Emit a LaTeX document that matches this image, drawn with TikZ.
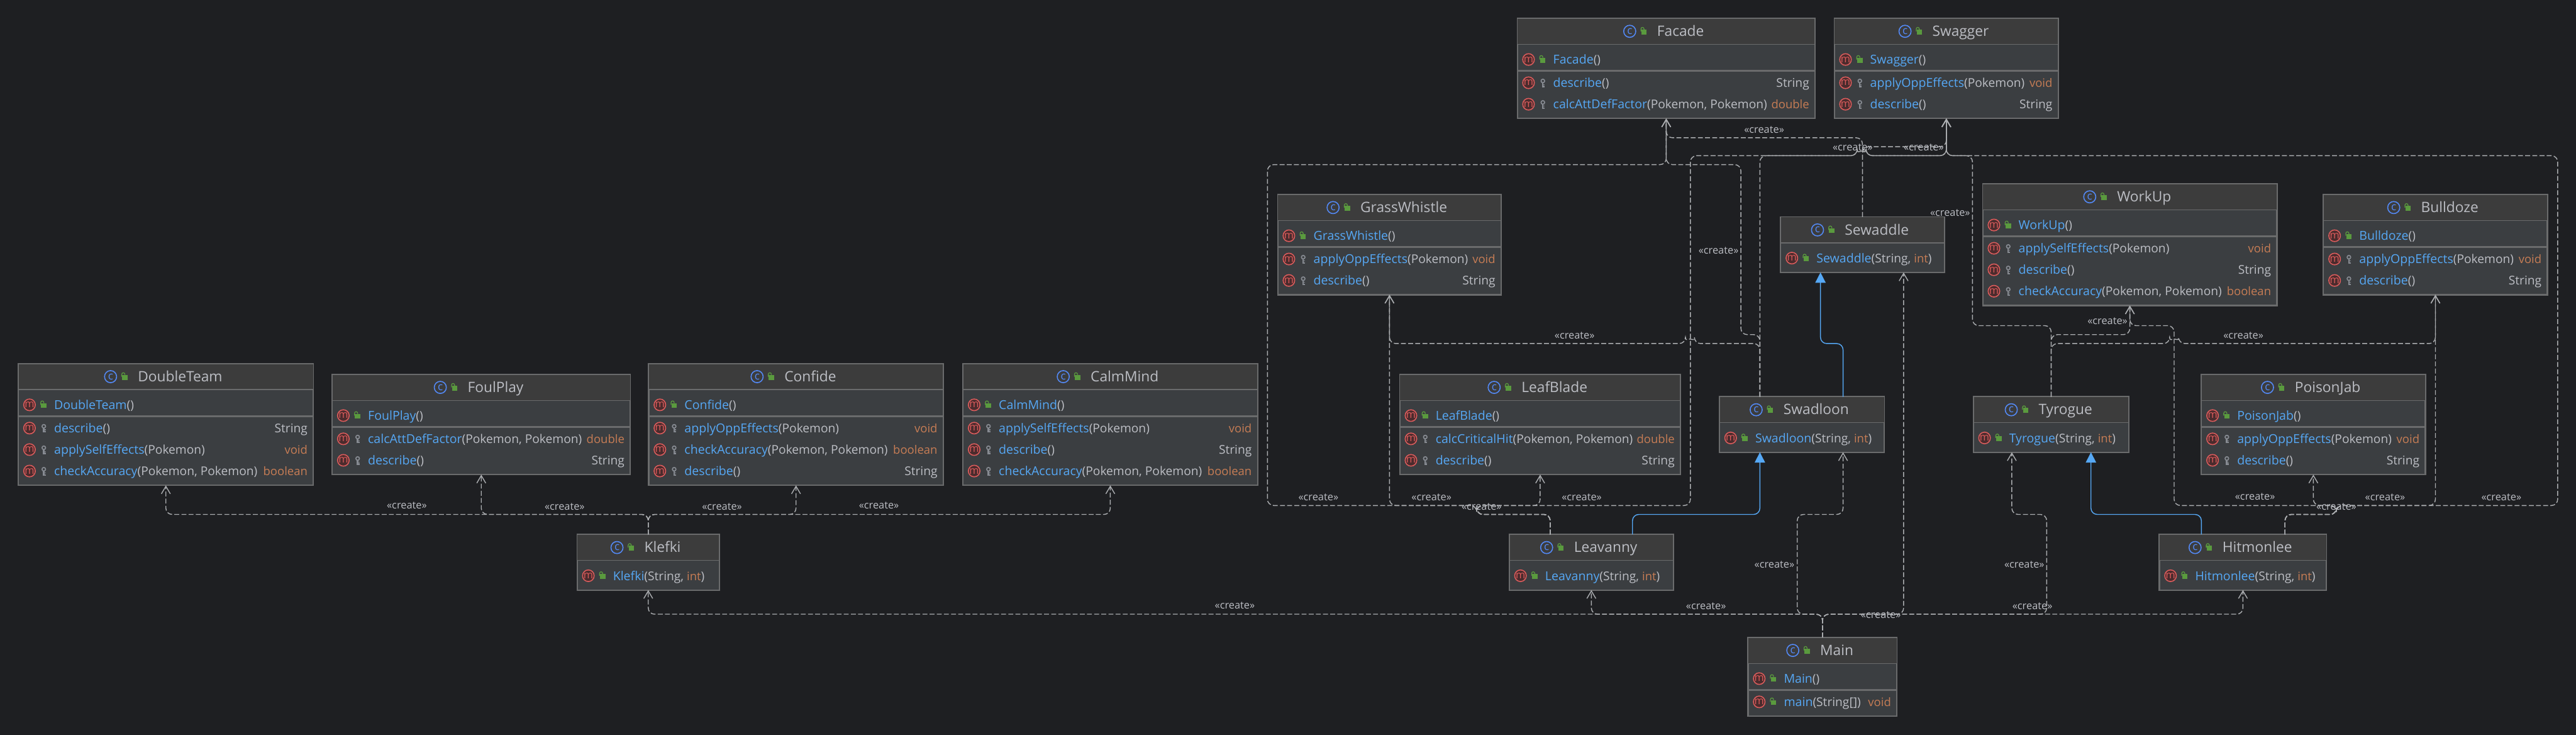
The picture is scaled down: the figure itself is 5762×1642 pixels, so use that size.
\documentclass[tikz,border=0pt]{standalone}
\usepackage{fontspec}
\setmainfont{Open Sans}
\usetikzlibrary{arrows.meta,calc}
\definecolor{bgcol}{HTML}{1E1F22}
\definecolor{headcol}{HTML}{3C3C3C}
\definecolor{bodycol}{HTML}{3B3E41}
\definecolor{linecol}{HTML}{6A6B6C}
\definecolor{textcol}{HTML}{BCBEC4}
\definecolor{mnamecol}{HTML}{56A8F5}
\definecolor{kwcol}{HTML}{C77D55}
\definecolor{depcol}{HTML}{ABADB0}
\definecolor{redcol}{HTML}{DB5C5C}
\definecolor{redfill}{HTML}{4B2B2D}
\definecolor{cblue}{HTML}{548AF7}
\definecolor{lockcol}{HTML}{5A9A3E}
\definecolor{keycol}{HTML}{868A91}
\tikzset{
  classbox/.style ={draw=linecol, fill=bodycol, line width=3pt, anchor=north west, inner sep=0pt, outer sep=0pt},
  headbox/.style  ={draw=linecol, fill=headcol, line width=2pt, anchor=north west, inner sep=0pt, outer sep=0pt},
  sepline/.style  ={draw=linecol, line width=4pt},
  title/.style    ={font=\fontsize{32}{38}\selectfont, text=textcol, inner sep=0pt, anchor=base},
  rowtxt/.style   ={font=\fontsize{27}{33}\selectfont, text=textcol, inner sep=0pt},
  cicon/.style    ={circle, draw=cblue, line width=2.2pt, text=cblue, minimum size=27pt, inner sep=0pt,
                    font=\fontsize{24}{24}\selectfont},
  micon/.style    ={circle, draw=redcol, fill=redfill, line width=2.2pt, text=redcol, minimum size=26pt, inner sep=0pt,
                    font=\fontsize{23}{23}\selectfont},
  lbl/.style      ={font=\fontsize{23}{27}\selectfont, text=textcol, inner sep=0pt},
  dep/.style      ={draw=depcol, line width=2pt, dash pattern=on 11pt off 5pt, rounded corners=14pt,
                    -{Straight Barb[length=17pt,width=20pt,line width=2pt]}},
  inh/.style      ={draw=mnamecol, line width=2pt, rounded corners=14pt,
                    -{Triangle[length=23pt,width=23pt]}},
  pics/openlock/.style={code={
    \fill[lockcol] (-5,-4) rectangle (7,7);
    \draw[lockcol,line width=1.8pt] (-6,0) -- (-6,-5) .. controls (-6,-10) and (1,-10) .. (1,-5) -- (1,-4);
  }},
  pics/keyicon/.style={code={
    \draw[keycol,line width=2.4pt] (1,-4) circle (4);
    \fill[keycol] (-1,0) rectangle (2.5,10);
    \fill[keycol] (2.5,3) rectangle (5,5);
    \fill[keycol] (2.5,7) rectangle (5,10);
  }},
}
\newcommand{\kw}[1]{\textcolor{kwcol}{\fontsize{26}{33}\selectfont #1}}
\newcommand{\mname}[1]{\textcolor{mnamecol}{\fontsize{27.5}{33}\selectfont #1}}
% name, x, y, width, height, title
\newcommand{\umlclass}[6]{
  \node[classbox, minimum width=#4, minimum height=#5] (#1) at (#2,#3) {};
  \node[headbox, minimum width=#4, minimum height=58] (#1h) at (#1.north west) {};
  \ifnum#5>124 \draw[sepline] ($(#1.north west)+(0,117)$) -- ($(#1.north east)+(0,117)$);\fi
  \node[title] (#1t) at ($(#1.north)+(32,40)$) {#6};
  \node[cicon] (#1c) at ($(#1t.base west)+(-61,-11)$) {c};
  \pic at ($(#1t.base west)+(-30,-11)$) {openlock};
}
% class, row, icon, method, arguments
\newcommand{\umlrow}[5]{
  \node[micon] (#1m#2) at ($(#1.north west)+(25,#2)$) {m};
  \pic at ($(#1.north west)+(56,#2)$) {#3};
  \node[rowtxt, anchor=base west] (#1r#2) at ($(#1.north west)+(80,#2+10)$) {\mname{#4}#5};
}
% class, row, return type
\newcommand{\umlret}[3]{
  \node[rowtxt, anchor=base east] (#1e#2) at ($(#1.north east)+(-13,#2+10)$) {#3};
}
\begin{document}
\begin{tikzpicture}[x=1pt,y=-1pt]
\useasboundingbox (0,0) rectangle (5762,1642);
\fill[bgcol] (-5,-5) rectangle (5767,1647);
\umlclass{dbl}{41}{813}{660}{272}{DoubleTeam}
\umlrow{dbl}{92}{openlock}{DoubleTeam}{()}
\umlrow{dbl}{144}{keyicon}{describe}{()} \umlret{dbl}{144}{String}
\umlrow{dbl}{192}{keyicon}{applySelfEffects}{(Pokemon)} \umlret{dbl}{192}{\kw{void}}
\umlrow{dbl}{240}{keyicon}{checkAccuracy}{(Pokemon, Pokemon)} \umlret{dbl}{240}{\kw{boolean}}
\umlclass{foul}{743}{837}{667}{224}{FoulPlay}
\umlrow{foul}{92}{openlock}{FoulPlay}{()}
\umlrow{foul}{144}{keyicon}{calcAttDefFactor}{(Pokemon, Pokemon)} \umlret{foul}{144}{\kw{double}}
\umlrow{foul}{192}{keyicon}{describe}{()} \umlret{foul}{192}{String}
\umlclass{conf}{1451}{813}{659}{272}{Confide}
\umlrow{conf}{92}{openlock}{Confide}{()}
\umlrow{conf}{144}{keyicon}{applyOppEffects}{(Pokemon)} \umlret{conf}{144}{\kw{void}}
\umlrow{conf}{192}{keyicon}{checkAccuracy}{(Pokemon, Pokemon)} \umlret{conf}{192}{\kw{boolean}}
\umlrow{conf}{240}{keyicon}{describe}{()} \umlret{conf}{240}{String}
\umlclass{calm}{2154}{813}{659}{272}{CalmMind}
\umlrow{calm}{92}{openlock}{CalmMind}{()}
\umlrow{calm}{144}{keyicon}{applySelfEffects}{(Pokemon)} \umlret{calm}{144}{\kw{void}}
\umlrow{calm}{192}{keyicon}{describe}{()} \umlret{calm}{192}{String}
\umlrow{calm}{240}{keyicon}{checkAccuracy}{(Pokemon, Pokemon)} \umlret{calm}{240}{\kw{boolean}}
\umlclass{klefki}{1291}{1195}{318}{124}{Klefki}
\umlrow{klefki}{92}{openlock}{Klefki}{(String, \kw{int})}
\umlclass{facade}{3394}{41}{666}{224}{Facade}
\umlrow{facade}{92}{openlock}{Facade}{()}
\umlrow{facade}{144}{keyicon}{describe}{()} \umlret{facade}{144}{String}
\umlrow{facade}{192}{keyicon}{calcAttDefFactor}{(Pokemon, Pokemon)} \umlret{facade}{192}{\kw{double}}
\umlclass{swag}{4103}{41}{501}{224}{Swagger}
\umlrow{swag}{92}{openlock}{Swagger}{()}
\umlrow{swag}{144}{keyicon}{applyOppEffects}{(Pokemon)} \umlret{swag}{144}{\kw{void}}
\umlrow{swag}{192}{keyicon}{describe}{()} \umlret{swag}{192}{String}
\umlclass{grass}{2858}{435}{500}{224}{GrassWhistle}
\umlrow{grass}{92}{openlock}{GrassWhistle}{()}
\umlrow{grass}{144}{keyicon}{applyOppEffects}{(Pokemon)} \umlret{grass}{144}{\kw{void}}
\umlrow{grass}{192}{keyicon}{describe}{()} \umlret{grass}{192}{String}
\umlclass{sewa}{3983}{485}{366}{124}{Sewaddle}
\umlrow{sewa}{92}{openlock}{Sewaddle}{(String, \kw{int})}
\umlclass{work}{4435}{411}{658}{272}{WorkUp}
\umlrow{work}{92}{openlock}{WorkUp}{()}
\umlrow{work}{144}{keyicon}{applySelfEffects}{(Pokemon)} \umlret{work}{144}{\kw{void}}
\umlrow{work}{192}{keyicon}{describe}{()} \umlret{work}{192}{String}
\umlrow{work}{240}{keyicon}{checkAccuracy}{(Pokemon, Pokemon)} \umlret{work}{240}{\kw{boolean}}
\umlclass{bull}{5197}{435}{501}{224}{Bulldoze}
\umlrow{bull}{92}{openlock}{Bulldoze}{()}
\umlrow{bull}{144}{keyicon}{applyOppEffects}{(Pokemon)} \umlret{bull}{144}{\kw{void}}
\umlrow{bull}{192}{keyicon}{describe}{()} \umlret{bull}{192}{String}
\umlclass{leaf}{3131}{837}{628}{224}{LeafBlade}
\umlrow{leaf}{92}{openlock}{LeafBlade}{()}
\umlrow{leaf}{144}{keyicon}{calcCriticalHit}{(Pokemon, Pokemon)} \umlret{leaf}{144}{\kw{double}}
\umlrow{leaf}{192}{keyicon}{describe}{()} \umlret{leaf}{192}{String}
\umlclass{swad}{3846}{887}{369}{124}{Swadloon}
\umlrow{swad}{92}{openlock}{Swadloon}{(String, \kw{int})}
\umlclass{tyro}{4414}{887}{348}{124}{Tyrogue}
\umlrow{tyro}{92}{openlock}{Tyrogue}{(String, \kw{int})}
\umlclass{poison}{4924}{837}{501}{224}{PoisonJab}
\umlrow{poison}{92}{openlock}{PoisonJab}{()}
\umlrow{poison}{144}{keyicon}{applyOppEffects}{(Pokemon)} \umlret{poison}{144}{\kw{void}}
\umlrow{poison}{192}{keyicon}{describe}{()} \umlret{poison}{192}{String}
\umlclass{leav}{3376}{1195}{367}{124}{Leavanny}
\umlrow{leav}{92}{openlock}{Leavanny}{(String, \kw{int})}
\umlclass{hitm}{4830}{1195}{374}{124}{Hitmonlee}
\umlrow{hitm}{92}{openlock}{Hitmonlee}{(String, \kw{int})}
\umlclass{main}{3910}{1425}{333}{176}{Main}
\umlrow{main}{92}{openlock}{Main}{()}
\umlrow{main}{144}{openlock}{main}{(String[])} \umlret{main}{144}{\kw{void}}
\foreach \t in {dbl,foul,conf,calm} \draw[dep] (klefki.north) -- ++(0,-45) -| (\t.south);
\foreach \t in {klefki,leav,hitm} \draw[dep] (main.north) -- ++(0,-52) -| (\t.south);
\draw[dep] (main.north) -- ++(0,-52) -| (4020,1150) -| ([xshift=92]swad.south);
\draw[dep] (main.north) -- ++(0,-52) -| ([xshift=92]sewa.south);
\draw[dep] (main.north) -- ++(0,-52) -| (4578,1150) -| ([xshift=-88]tyro.south);
\draw[dep] ([xshift=-92]leav.north) -- ++(0,-45) -| (3303,1130) -| (2835,368) -| (facade.south);
\draw[dep] ([xshift=-92]leav.north) -- ++(0,-45) -| (3303,1130) -| (grass.south);
\draw[dep] ([xshift=-92]leav.north) -- ++(0,-45) -| (3303,1130) -| (leaf.south);
\draw[dep] ([xshift=-92]leav.north) -- ++(0,-45) -| (3303,1130) -| (3781,348) -- (4154,348)
  arc[start angle=180,end angle=360,radius=10] -| (swag.south);
\draw[dep] ([xshift=-94]swad.north) -- ++(0,-119) -- (3790,768)
  arc[start angle=0,end angle=-180,radius=10] -| (grass.south);
\draw[dep] ([xshift=-94]swad.north) |- (3894,748) -- (3894,368) -| (facade.south);
\draw[dep] ([xshift=-94]swad.north) -- ++(0,-539) -- (4154,348)
  arc[start angle=180,end angle=360,radius=10] -| (swag.south);
\draw[dep] (sewa.north) -- ++(0,-177) -| (facade.south);
\draw[dep] (sewa.north) -- ++(0,-157) -| (swag.south);
\draw[dep] (tyro.north) -- ++(0,-159) -| (4412,348) -| (swag.south);
\draw[dep] (tyro.north) -- ++(0,-139) -| (work.south);
\draw[dep] (tyro.north) -- ++(0,-119) -- (4853,768)
  arc[start angle=180,end angle=360,radius=10] -| (bull.south);
\draw[dep] ([xshift=94]hitm.north) -- ++(0,-45) -| (5226,1130) -| (poison.south);
\draw[dep] ([xshift=94]hitm.north) -- ++(0,-45) -| (5226,1130) -| (4863,728) -| (work.south);
\draw[dep] ([xshift=94]hitm.north) -- ++(0,-45) -| (5226,1130) -| (bull.south);
\draw[dep] ([xshift=94]hitm.north) -- ++(0,-45) -| (5226,1130) -| (5721,348) -| (swag.south);
\draw[inh] ([xshift=92]leav.north) -- ++(0,-45) -| ([xshift=-94]swad.south);
\draw[inh] ([xshift=92]swad.north) -- ++(0,-119) -| ([xshift=-94]sewa.south);
\draw[inh] ([xshift=-93]hitm.north) -- ++(0,-45) -| ([xshift=89]tyro.south);
\foreach \x/\y in {910/1130,1263/1132,1615/1132,1966/1130,2762/1354,3816/1355,3969/1262,4528/1262,
  4546/1355,4207/1374,2949/1112,3202/1112,3538/1112,3314/1133,3946/290,4144/330,4303/330,3844/560,
  3522/750,4362/476,4714/718,5018/750,5044/1110,5335/1112,5595/1112,5226/1133}
  \node[lbl] (lbl\x) at (\x,\y) {«create»};
\end{tikzpicture}
\end{document}
